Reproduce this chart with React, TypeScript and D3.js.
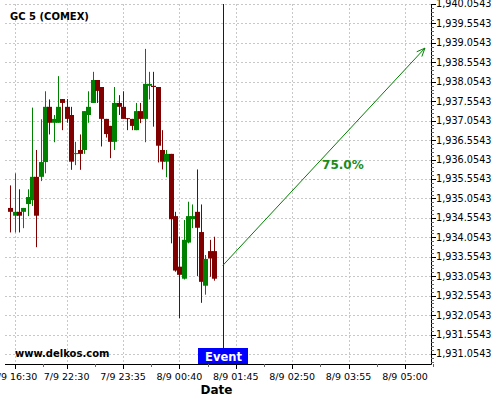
import React from "react";
import * as d3 from "d3";

const opens = [1934.81, 1934.61, 1934.71, 1934.71, 1934.91, 1935.01, 1935.61, 1935.61, 1935.99, 1937.41, 1937.0, 1937.0, 1937.61, 1937.41, 1937.2, 1936.2, 1936.3, 1936.3, 1937.2, 1937.51, 1938.1, 1937.92, 1937.1, 1936.92, 1936.51, 1937.51, 1937.41, 1937.12, 1937.1, 1936.81, 1937.3, 1937.1, 1937.95, 1937.95, 1937.92, 1936.3, 1936.0, 1936.2, 1934.6, 1933.3, 1932.99, 1933.92, 1934.52, 1934.71, 1934.19, 1932.81, 1933.7, 1933.7];
const highs = [1935.39, 1935.7, 1935.29, 1934.81, 1935.29, 1937.39, 1936.3, 1937.09, 1937.81, 1937.6, 1937.2, 1938.2, 1937.61, 1937.61, 1937.41, 1936.51, 1936.7, 1937.3, 1937.81, 1938.31, 1938.1, 1937.92, 1937.1, 1936.92, 1937.92, 1937.71, 1937.81, 1937.12, 1937.1, 1937.51, 1937.51, 1938.9, 1938.31, 1938.31, 1937.92, 1936.81, 1936.3, 1936.2, 1934.71, 1934.07, 1934.5, 1934.97, 1934.9, 1935.8, 1934.9, 1933.6, 1933.99, 1934.07];
const lows = [1934.18, 1934.18, 1934.18, 1934.29, 1934.6, 1934.86, 1933.8, 1935.5, 1935.7, 1936.7, 1936.5, 1937.0, 1936.81, 1937.0, 1935.79, 1935.91, 1935.79, 1936.2, 1937.0, 1937.51, 1937.51, 1936.39, 1936.62, 1936.09, 1936.3, 1937.2, 1937.1, 1936.81, 1936.81, 1936.81, 1936.99, 1936.5, 1937.6, 1936.9, 1935.98, 1935.8, 1935.6, 1933.9, 1933.17, 1931.97, 1932.97, 1933.9, 1934.29, 1933.06, 1932.37, 1932.58, 1933.04, 1932.94];
const closes = [1934.71, 1934.71, 1934.61, 1934.81, 1935.09, 1935.61, 1934.61, 1935.99, 1937.41, 1937.0, 1937.1, 1937.41, 1937.51, 1937.1, 1936.0, 1936.22, 1936.2, 1937.3, 1937.41, 1938.1, 1937.82, 1937.1, 1936.71, 1936.51, 1937.51, 1937.41, 1937.1, 1937.1, 1936.92, 1937.3, 1937.1, 1938.0, 1938.0, 1937.92, 1936.41, 1936.0, 1936.2, 1934.52, 1933.2, 1933.09, 1933.99, 1934.6, 1934.6, 1934.3, 1932.91, 1933.5, 1933.51, 1932.99];

const xTickIndex = [1, 13, 26, 39, 52, 65, 78, 91];
const xTickLabels = ["7/9 16:30", "7/9 22:30", "7/9 23:35", "8/9 00:40", "8/9 01:45", "8/9 02:50", "8/9 03:55", "8/9 05:00"];
const yTickValues = [1931.0543, 1931.5543, 1932.0543, 1932.5543, 1933.0543, 1933.5543, 1934.0543, 1934.5543, 1935.0543, 1935.5543, 1936.0543, 1936.5543, 1937.0543, 1937.5543, 1938.0543, 1938.5543, 1939.0543, 1939.5543, 1940.0543];

const eventIndex = 49;
const arrowStart = { i: 49, p: 1933.33 };
const arrowEnd = { i: 95.6, p: 1938.92 };
const pctLabel = { i: 76.7, p: 1935.91, text: "75.0%" };
const title = "GC 5 (COMEX)";
const watermark = "www.delkos.com";

const W = 500, H = 400;
const L = 5, R = 431, T = 4, B = 364;
const GREEN = "#008000", RED = "#800000";

export default function App() {
  const x = d3.scaleLinear().domain([-1.2, 97.0]).range([L, R]);
  const y = d3.scaleLinear().domain([1930.797, 1940.0543]).range([B, T]);
  const fmt = d3.format(",.4f");

  const minorY: number[] = [];
  for (let v = 1930.8543; v <= 1940.06; v += 0.1) minorY.push(v);
  const minorX: number[] = [];
  for (let j = 0; j < xTickIndex.length; j++) {
    minorX.push(xTickIndex[j] + 6.5);
  }
  minorX.push(xTickIndex[0] - 6.5);

  const ex = Math.round(x(eventIndex)) + 0.5;
  const ax1 = x(arrowStart.i), ay1 = y(arrowStart.p);
  const ax2 = x(arrowEnd.i), ay2 = y(arrowEnd.p);
  const ang = Math.atan2(ay2 - ay1, ax2 - ax1);
  const hl = 9, ha = 0.4;
  const h1 = [ax2 - hl * Math.cos(ang - ha), ay2 - hl * Math.sin(ang - ha)];
  const h2 = [ax2 - hl * Math.cos(ang + ha), ay2 - hl * Math.sin(ang + ha)];

  return (
    <svg width={W} height={H} style={{ position: "absolute", left: 0, top: 0, background: "#fff" }} fontFamily="DejaVu Sans">
      <rect x={0} y={0} width={W} height={H} fill="#fff" />
      {/* grid */}
      {yTickValues.map((v, k) => (
        <line key={"gy" + k} x1={L} x2={R} y1={Math.round(y(v)) + 0.5} y2={Math.round(y(v)) + 0.5} stroke="#c8c8c8" strokeDasharray="2,2" />
      ))}
      {xTickIndex.map((v, k) => (
        <line key={"gx" + k} x1={Math.round(x(v)) + 0.5} x2={Math.round(x(v)) + 0.5} y1={T} y2={B} stroke="#c8c8c8" strokeDasharray="2,2" />
      ))}
      {/* candles */}
      {opens.map((o, i) => {
        const c = closes[i];
        const up = c >= o;
        const col = up ? GREEN : RED;
        const cx = Math.round(x(i));
        const top = y(Math.max(o, c));
        const bot = y(Math.min(o, c));
        return (
          <g key={"c" + i}>
            <line x1={cx + 0.5} x2={cx + 0.5} y1={y(highs[i])} y2={y(lows[i])} stroke={col} strokeWidth={1} />
            <rect x={cx - 2} y={top} width={5} height={Math.max(1, bot - top)} fill={col} />
          </g>
        );
      })}
      {/* title */}
      <text x={10} y={20} fontSize={10} fontWeight="bold" fill="#000">{title}</text>
      <text x={15} y={357} fontSize={10} fontWeight="bold" fill="#000">{watermark}</text>
      {/* event line */}
      <line x1={ex} x2={ex} y1={T} y2={348} stroke="#0000ff" strokeWidth={1} />
      <rect x={ex - 25.5} y={348} width={50} height={B - 348} fill="#0000ff" />
      <text x={ex} y={361} fontSize={11.5} fontWeight="bold" fill="#fff" textAnchor="middle">Event</text>
      {/* arrow */}
      <line x1={ax1} y1={ay1} x2={ax2} y2={ay2} stroke={GREEN} strokeWidth={1} />
      <polyline points={`${h1[0]},${h1[1]} ${ax2},${ay2} ${h2[0]},${h2[1]}`} fill="none" stroke={GREEN} strokeWidth={1} />
      <text x={x(pctLabel.i)} y={y(pctLabel.p)} fontSize={12} fontWeight="bold" fill="#1a8c1a" textAnchor="middle" dominantBaseline="central">{pctLabel.text}</text>
      {/* axes */}
      <line x1={L} x2={R + 0.5} y1={B + 0.5} y2={B + 0.5} stroke="#000" />
      <line x1={R + 0.5} x2={R + 0.5} y1={T} y2={B + 0.5} stroke="#000" />
      {minorY.map((v, k) => (
        <line key={"my" + k} x1={R} x2={R + 3} y1={Math.round(y(v)) + 0.5} y2={Math.round(y(v)) + 0.5} stroke="#666" />
      ))}
      {yTickValues.map((v, k) => (
        <g key={"ty" + k}>
          <line x1={R} x2={R + 5} y1={Math.round(y(v)) + 0.5} y2={Math.round(y(v)) + 0.5} stroke="#000" />
          <text x={436} y={y(v)} dy="0.35em" fontSize={9.7} fill="#000">{fmt(v)}</text>
        </g>
      ))}
      {minorX.map((v, k) => (
        <line key={"mx" + k} x1={Math.round(x(v)) + 0.5} x2={Math.round(x(v)) + 0.5} y1={B} y2={B + 3} stroke="#666" />
      ))}
      {xTickIndex.map((v, k) => (
        <g key={"tx" + k}>
          <line x1={Math.round(x(v)) + 0.5} x2={Math.round(x(v)) + 0.5} y1={B} y2={B + 5} stroke="#000" />
          <text x={x(v)} y={380} fontSize={9.5} fill="#000" textAnchor="middle">{xTickLabels[k]}</text>
        </g>
      ))}
      <text x={216.5} y={394} fontSize={12} fontWeight="bold" fill="#000" textAnchor="middle">Date</text>
    </svg>
  );
}
